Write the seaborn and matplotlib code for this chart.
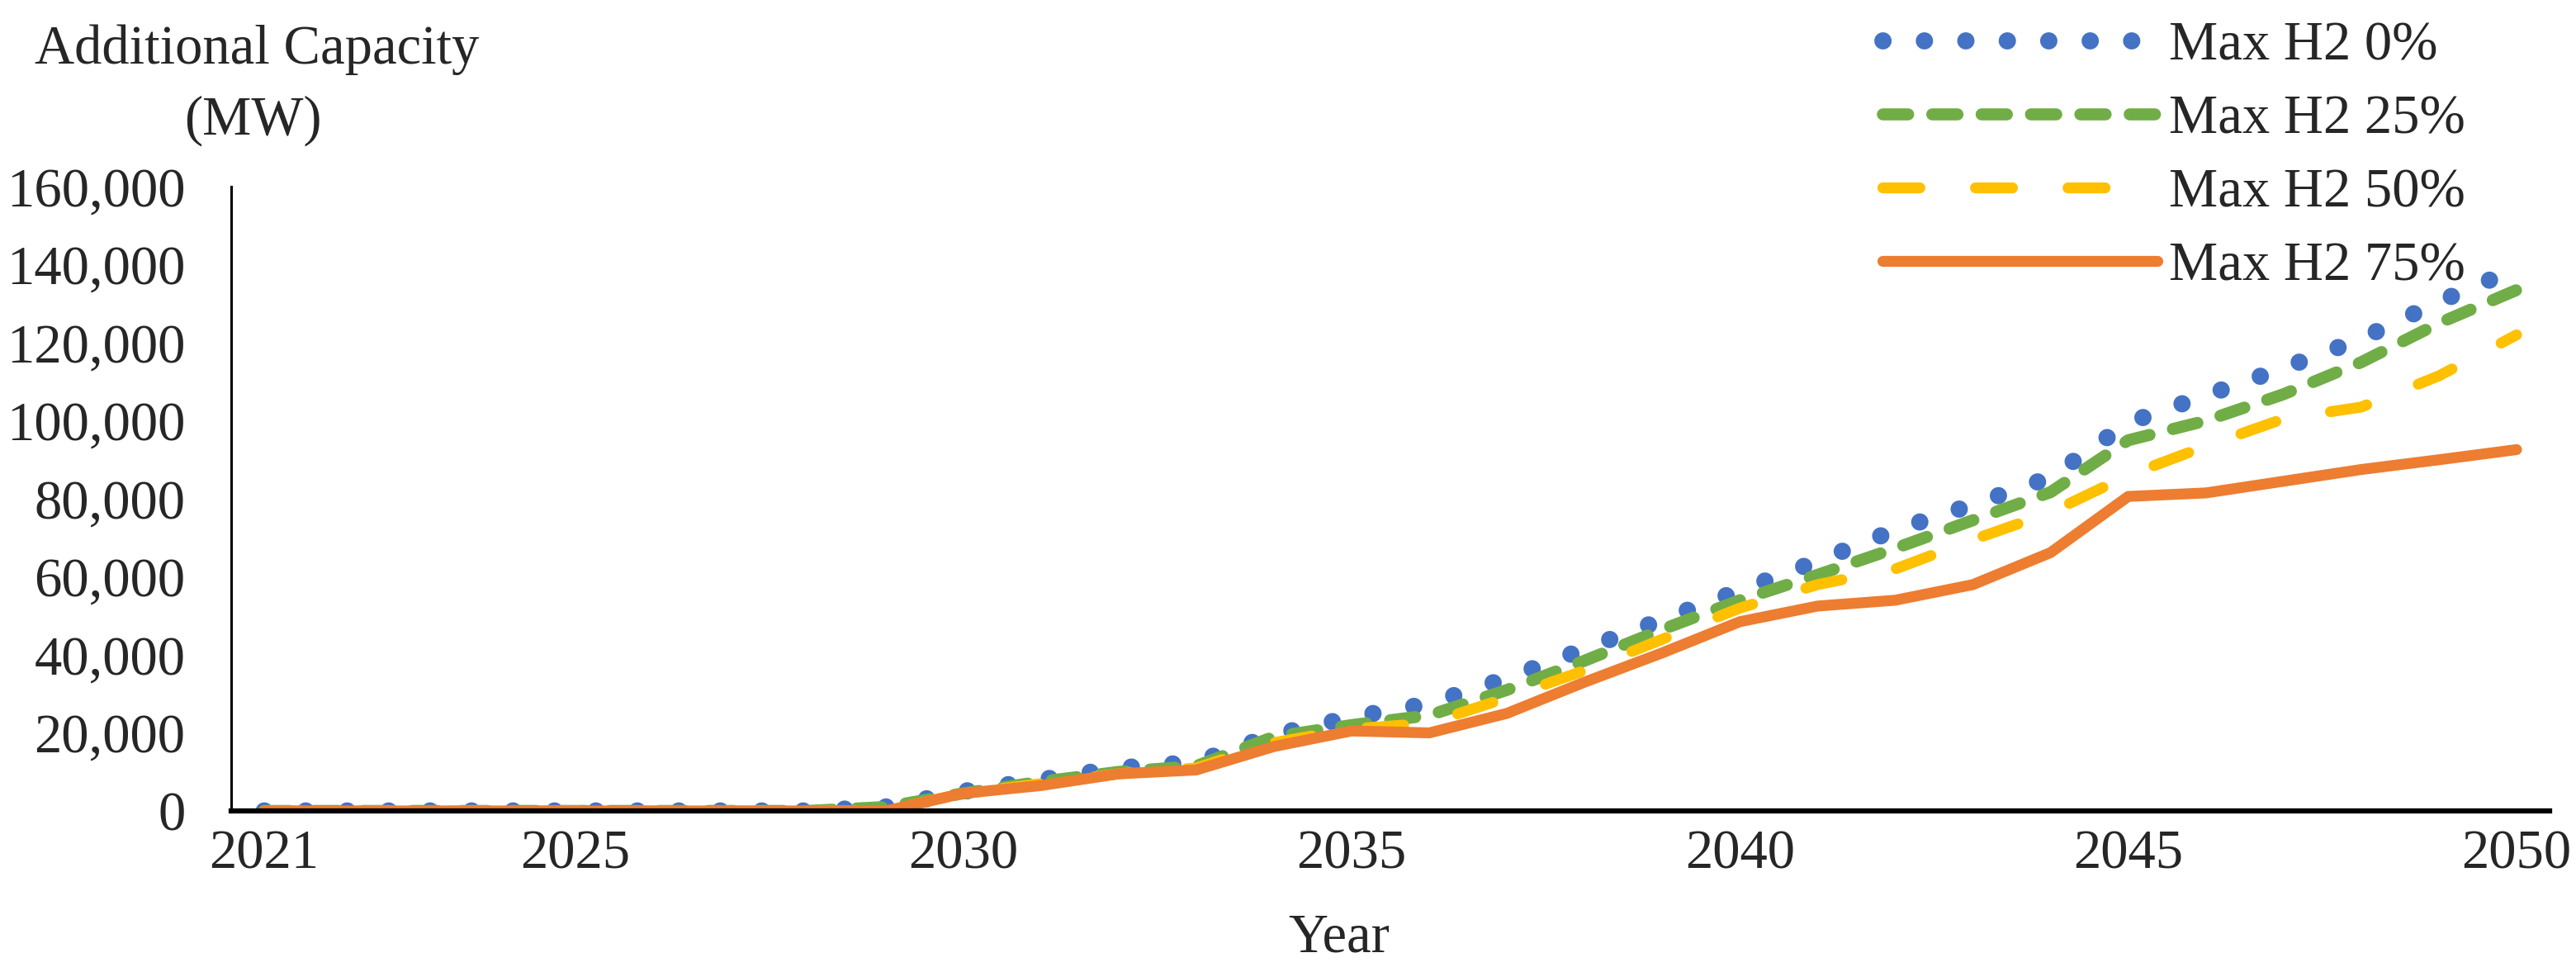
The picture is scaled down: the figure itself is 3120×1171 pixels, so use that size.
import numpy as np
import pandas as pd
import seaborn as sns
import matplotlib.pyplot as plt
from matplotlib.ticker import FuncFormatter

# Data (MW)
years = list(range(2021, 2051))
h2_0 = [0, 0, 0, 0, 0, 0, 0, 0, 1000, 5000, 8000, 11000, 12500, 19500, 24000,
        27500, 34000, 41500, 49000, 56500, 64000, 72000, 78500, 85500, 99500,
        106500, 113500, 121000, 130500, 139000]
h2_25 = [0, 0, 0, 0, 0, 0, 0, 0, 1000, 4500, 7500, 10000, 11500, 19000, 22000,
         24500, 31000, 38500, 46500, 54000, 60500, 67300, 74500, 81700, 95000,
         100000, 106800, 115000, 125000, 133500]
h2_50 = [0, 0, 0, 0, 0, 0, 0, 0, 0, 4500, 7000, 9500, 11000, 17500, 21000,
         22500, 29000, 36000, 44000, 52000, 58000, 62000, 69500, 76500, 86000,
         93500, 100500, 103500, 111500, 122000]
h2_75 = [0, 0, 0, 0, 0, 0, 0, 0, 0, 4500, 6500, 9500, 10500, 16500, 20500,
         20000, 25000, 33000, 40500, 48500, 52500, 54000, 58000, 66200, 80600,
         81500, 84500, 87500, 90000, 92600]
labels = ["Max H2 0%", "Max H2 25%", "Max H2 50%", "Max H2 75%"]
x_ticks = [2021, 2025, 2030, 2035, 2040, 2045, 2050]
y_ticks = [0, 20000, 40000, 60000, 80000, 100000, 120000, 140000, 160000]

df = pd.DataFrame({"Year": years, labels[0]: h2_0, labels[1]: h2_25,
                   labels[2]: h2_50, labels[3]: h2_75})
long_df = df.melt(id_vars="Year", var_name="Scenario", value_name="MW")

sns.set_style("white")
plt.rcParams["font.family"] = ["Liberation Serif", "DejaVu Serif"]
FS = 48

# colour, linewidth (pt), dash pattern (in linewidths)
styles = {
    labels[0]: ("#4472C4", 15, (0.01, 2.4)),
    labels[1]: ("#70AD47", 10.5, (2.1, 2.0)),
    labels[2]: ("#FFC000", 9.5, (3.4, 5.1)),
    labels[3]: ("#ED7D31", 9.5, None),
}

fig = plt.figure(figsize=(31.2, 11.71), dpi=100)
ax = fig.add_axes([280 / 3120, 189 / 1171, 2808 / 3120, 756 / 1171])

for name in labels:
    color, lw, dash = styles[name]
    sub = long_df[long_df["Scenario"] == name]
    sns.lineplot(data=sub, x="Year", y="MW", ax=ax, color=color, lw=lw, label=name)
    line = ax.lines[-1]
    line.set_solid_capstyle("round")
    line.set_dash_capstyle("round")
    if dash is not None:
        line.set_dashes(dash)

ax.set_xlim(2020.575, 2050.425)
ax.set_ylim(0, 160000)
ax.set_xticks(x_ticks)
ax.set_yticks(y_ticks)
ax.yaxis.set_major_formatter(FuncFormatter(lambda v, p: f"{int(v):,}"))
ax.tick_params(axis="x", length=0, pad=16, labelsize=FS)
ax.tick_params(axis="y", length=0, pad=40, labelsize=FS)
ax.set_xlabel("")
ax.set_ylabel("")

for side in ["top", "right"]:
    ax.spines[side].set_visible(False)
ax.spines["left"].set_linewidth(2.2)
ax.spines["left"].set_color("black")
ax.spines["bottom"].set_linewidth(4.5)
ax.spines["bottom"].set_color("black")

fig.text(311 / 3120, 1 - 60 / 1171, "Additional Capacity", ha="center", va="center", fontsize=FS)
fig.text(306 / 3120, 1 - 146 / 1171, "(MW)", ha="center", va="center", fontsize=FS)
fig.text(1622 / 3120, 1 - 1136 / 1171, "Year", ha="center", va="center", fontsize=FS)

ax.get_legend().remove()
handles, lbls = ax.get_legend_handles_labels()
fig.legend(handles, lbls, loc="upper left", bbox_to_anchor=(2280 / 3120, 0.978),
           frameon=False, fontsize=FS, handlelength=5.0, handletextpad=0.2,
           labelspacing=0.42, borderpad=0.0, borderaxespad=0.0)

fig.savefig("out.png", dpi=100, facecolor="white")
